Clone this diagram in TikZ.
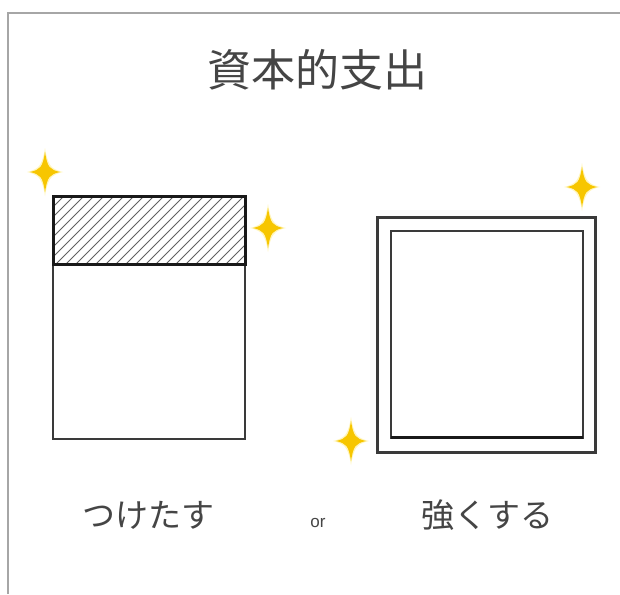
\documentclass[tikz,border=0pt]{standalone}
\usepackage{fontspec}
\setmainfont{Noto Sans CJK JP}
\newfontfamily\cjk{Noto Sans CJK JP}
\newfontfamily\latin{Liberation Sans}
\definecolor{txtgray}{HTML}{454545}
\definecolor{framegray}{HTML}{A6A6A6}
\definecolor{linegray}{HTML}{3A3A3A}
\definecolor{spark}{HTML}{F7C600}
\definecolor{glow}{HTML}{FFF2A0}
\tikzset{
  x=1pt, y=-1pt,
  title/.style={font=\cjk\fontsize{44}{48}\selectfont, text=txtgray, inner sep=0pt},
  lbl/.style={font=\cjk\fontsize{33}{36}\selectfont, text=txtgray, inner sep=0pt},
  orlbl/.style={font=\latin\fontsize{17}{20}\selectfont, text=txtgray, inner sep=0pt},
  sparkle/.pic={
    \fill[glow, opacity=0.7] (0,-24) .. controls (3,-6) and (6,-3) .. (18,0)
      .. controls (6,3) and (3,6) .. (0,24)
      .. controls (-3,6) and (-6,3) .. (-18,0)
      .. controls (-6,-3) and (-3,-6) .. cycle;
    \fill[spark] (0,-20) .. controls (2.5,-4.5) and (4.5,-2.5) .. (15,0)
      .. controls (4.5,2.5) and (2.5,4.5) .. (0,20)
      .. controls (-2.5,4.5) and (-4.5,2.5) .. (-15,0)
      .. controls (-4.5,-2.5) and (-2.5,-4.5) .. cycle;
  }
}
\begin{document}
\begin{tikzpicture}
\useasboundingbox (0,0) rectangle (620,594);
\fill[white] (0,0) rectangle (620,594);
% frame
\draw[framegray, line width=2pt] (8,594) -- (8,13) -- (620,13);
% title
\node[title] (title) at (317,70) {資本的支出};
% left box: hatched top
\begin{scope}
  \clip (53,196) rectangle (245,264);
  \foreach \i in {-80,-70,...,260} {
    \draw[linegray!80, line width=0.9pt] (\i,270) -- (\i+80,190);
  }
\end{scope}
\draw[linegray, line width=1.8pt] (53,264) rectangle (245,439);
\draw[black!90, line width=3pt] (53,196) rectangle (245,264);
% right box
\draw[linegray, line width=3pt] (377,217) rectangle (595,452);
\draw[linegray, line width=2pt] (391,231) rectangle (583,438);
\draw[black!90, line width=3pt] (391,437.5) -- (583,437.5);
% sparkles
\pic at (45,172) {sparkle};
\pic at (268,228) {sparkle};
\pic at (582,187) {sparkle};
\pic at (351,441) {sparkle};
% labels
\node[lbl] (add) at (148,515) {つけたす};
\node[orlbl] (or) at (318,523) {or};
\node[lbl] (strong) at (487,515) {強くする};
\end{tikzpicture}
\end{document}
